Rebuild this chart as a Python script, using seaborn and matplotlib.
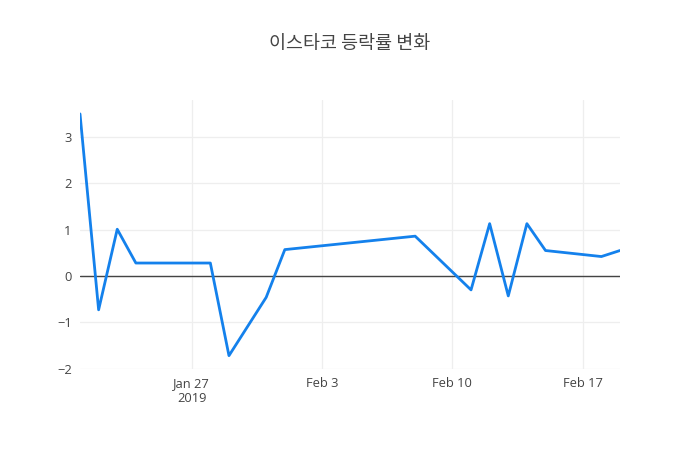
import matplotlib
matplotlib.use("Agg")
import matplotlib.pyplot as plt
import seaborn as sns
import pandas as pd

dates = ["2019-01-21", "2019-01-22", "2019-01-23", "2019-01-24", "2019-01-28",
         "2019-01-29", "2019-01-31", "2019-02-01", "2019-02-08", "2019-02-11",
         "2019-02-12", "2019-02-13", "2019-02-14", "2019-02-15", "2019-02-18",
         "2019-02-19"]
rates = [3.50, -0.73, 1.01, 0.28, 0.28, -1.72, -0.46, 0.57, 0.86, -0.30,
         1.13, -0.43, 1.13, 0.55, 0.42, 0.55]
title = "이스타코 등락률 변화"
xtick_dates = ["2019-01-27", "2019-02-03", "2019-02-10", "2019-02-17"]
xtick_labels = ["Jan 27\n2019", "Feb 3", "Feb 10", "Feb 17"]
yticks = [-2, -1, 0, 1, 2, 3]

df = pd.DataFrame({"date": pd.to_datetime(dates), "rate": rates})

sns.set_style("white")
plt.rcParams['font.family'] = ['Open Sans', 'Noto Sans CJK KR', 'DejaVu Sans']

fig = plt.figure(figsize=(7, 4.5), dpi=100)
ax = fig.add_axes([80/700, 1-369/450, 540/700, 269/450])

sns.lineplot(data=df, x="date", y="rate", ax=ax, color="#1481ec", linewidth=2, zorder=3)

ax.set_xlim(pd.Timestamp(dates[0]), pd.Timestamp(dates[-1]))
ax.set_ylim(-2.008, 3.8)
ax.set_xticks(pd.to_datetime(xtick_dates))
ax.set_xticklabels(xtick_labels)
ax.set_yticks(yticks)
ax.set_yticklabels([("\u2212" + str(abs(v))) if v < 0 else str(v) for v in yticks])

ax.grid(True, color="#eeeeee", linewidth=0.9)
ax.axhline(0, color="#444444", linewidth=1, zorder=2)
for s in ax.spines.values():
    s.set_visible(False)
ax.tick_params(axis="both", length=0, labelsize=9.3, colors="#444444", pad=6)
ax.set_xlabel("")
ax.set_ylabel("")

fig.text(350/700, 1-44/450, title, ha="center", va="center", fontsize=13.3,
         color="#444444", family=['Noto Sans CJK KR', 'DejaVu Sans'])

fig.savefig("out.png", dpi=100)
